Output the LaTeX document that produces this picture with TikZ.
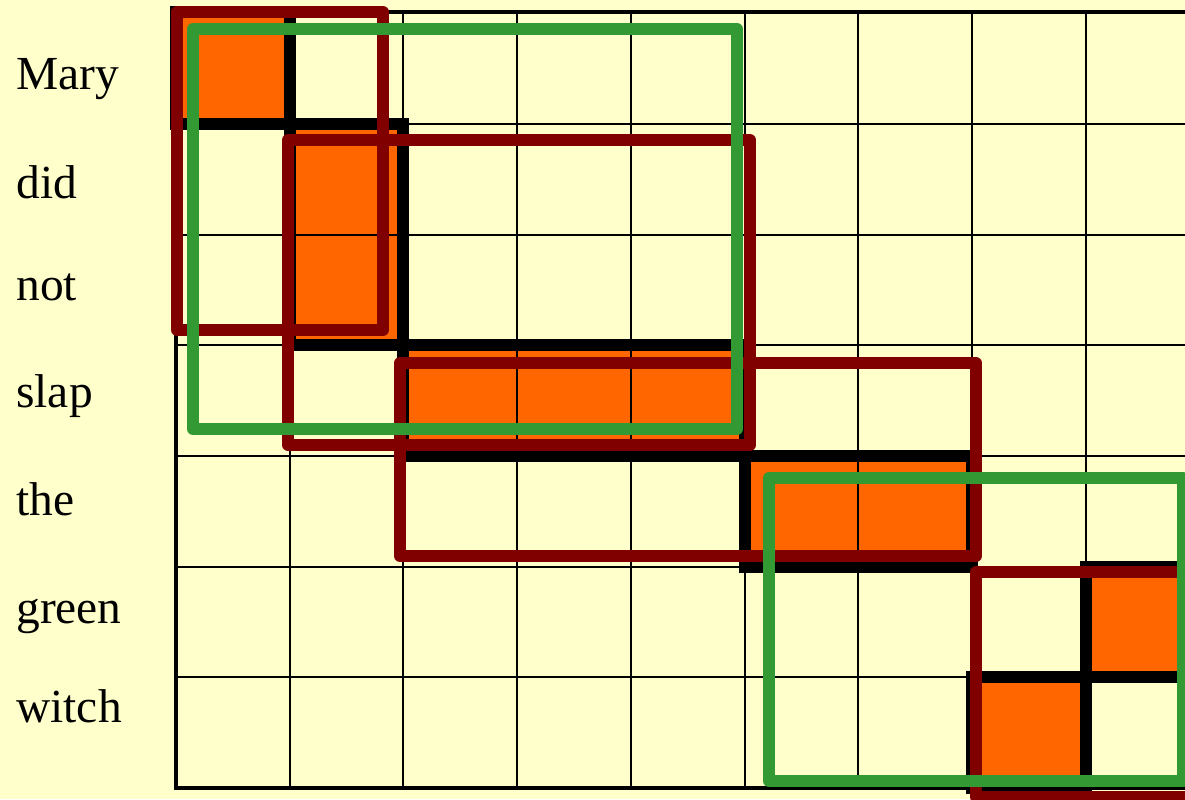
\documentclass[tikz,border=0pt]{standalone}
\usepackage{fontspec}
\setmainfont{Liberation Serif}
\definecolor{paper}{RGB}{255,255,204}
\definecolor{cellorange}{RGB}{255,102,0}
\definecolor{pairred}{RGB}{128,0,0}
\definecolor{pairgreen}{RGB}{51,153,51}

\begin{document}
\begin{tikzpicture}[x=0.02cm,y=-0.02cm,
 word/.style={anchor=base west,inner sep=0pt,font=\fontsize{27}{31}\selectfont},
 gridline/.style={line width=1.5pt},
 frameline/.style={line width=2.8pt},
 blockline/.style={line width=6.4pt},
 redpair/.style={draw=pairred,line width=6.6pt,line join=round},
 greenpair/.style={draw=pairgreen,line width=6.8pt,line join=round}]
\useasboundingbox (0,0) rectangle (1185,799);
\fill[paper] (0,0) rectangle (1185,799);
\clip (0,0) rectangle (1185,799);
% aligned cells
\fill[cellorange] (176,12) rectangle (290,124);
\fill[cellorange] (290,124) rectangle (403,345);
\fill[cellorange] (403,345) rectangle (745,456);
\fill[cellorange] (745,456) rectangle (972,567);
\fill[cellorange] (1086,567) rectangle (1200,677);
\fill[cellorange] (972,677) rectangle (1086,788);
% grid
\foreach \x in {290,403,517,631,745,858,972,1086} \draw[gridline] (\x,12)--(\x,788);
\foreach \y in {124,235,345,456,567,677} \draw[gridline] (176,\y)--(1200,\y);
\draw[blockline] (176,12) rectangle (290,124);
\draw[blockline] (290,124) rectangle (403,345);
\draw[blockline] (403,345) rectangle (745,456);
\draw[blockline] (745,456) rectangle (972,567);
\draw[blockline] (1086,567) rectangle (1200,677);
\draw[blockline] (972,677) rectangle (1086,788);
\draw[frameline] (1200,12)--(176,12)--(176,788)--(1200,788);
% phrase pairs
\draw[redpair] (177,12) rectangle (383,330);
\draw[redpair] (288,140) rectangle (750,445);
\draw[redpair] (400,363) rectangle (976,556);
\draw[redpair] (976,572) rectangle (1250,797);
\draw[greenpair] (193,29) rectangle (737,429);
\draw[greenpair] (769,478) rectangle (1183,781);
% words
\node[word] (mary) at (16,89) {Mary};
\node[word] (did) at (16,198) {did};
\node[word] (not) at (16,300) {not};
\node[word] (slap) at (16,407) {slap};
\node[word] (the) at (16,515) {the};
\node[word] (green) at (16,623) {green};
\node[word] (witch) at (16,722) {witch};
\end{tikzpicture}
\end{document}
